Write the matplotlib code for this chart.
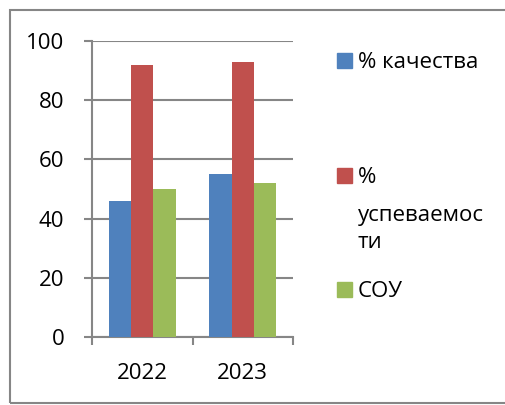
import matplotlib.pyplot as plt
from matplotlib.patches import Rectangle
import numpy as np

plt.rcParams['font.family'] = ['Open Sans', 'DejaVu Sans']

years = ['2022', '2023']
series_names = ['% качества', '%\nуспеваемос\nти', 'СОУ']
kachestvo = [46, 55]
uspevaemost = [92, 93]
sou = [50, 52]
colors = ['#4F81BD', '#C0504D', '#9BBB59']

W, H = 505, 405
fig = plt.figure(figsize=(W / 100, H / 100), dpi=100)
ax = fig.add_axes([92 / W, 1 - 337 / H, 201 / W, 296 / H])

grey = '#868686'
x = np.arange(len(years))
bw = 0.222
for i, (vals, c) in enumerate(zip([kachestvo, uspevaemost, sou], colors)):
    ax.bar(x + (i - 1) * bw, vals, width=bw, color=c, zorder=3)

ax.set_xlim(-0.5, 1.5)
ax.set_ylim(0, 100)
ax.set_yticks(range(0, 101, 20))
ax.yaxis.grid(True, color=grey, linewidth=1.5, zorder=0)
ax.set_xticks([-0.5, 0.5, 1.5])
ax.set_xticklabels([])
ax.set_xticks(x, minor=True)
ax.set_xticklabels(years, minor=True)
ax.tick_params(axis='x', which='minor', length=0, pad=19, labelsize=16)
ax.tick_params(axis='x', which='major', length=6, width=1.5, color=grey)
ax.tick_params(axis='y', length=6, width=1.5, color=grey, pad=14, labelsize=16)
for s in ['top', 'right']:
    ax.spines[s].set_visible(False)
for s in ['left', 'bottom']:
    ax.spines[s].set_color(grey)
    ax.spines[s].set_linewidth(1.5)

# legend drawn by hand, entries spread down the right side;
# each entry: square bottom / text baselines in pixels from top
leg_base = [[68], [183, 221, 248], [297]]
for name, c, bases in zip(series_names, colors, leg_base):
    fig.add_artist(Rectangle((337 / W, 1 - bases[0] / H), 15 / W, 15 / H,
                             transform=fig.transFigure, color=c))
    for line, b in zip(name.split('\n'), bases):
        fig.text(358 / W, 1 - b / H, line, fontsize=16, va='baseline',
                 ha='left')

# outer chart frame
fig.add_artist(Rectangle((10 / W, 1 - 403 / H), 1.0, 393 / H,
                         transform=fig.transFigure, fill=False,
                         edgecolor=grey, linewidth=1.5))

fig.savefig('out.png', dpi=100)
